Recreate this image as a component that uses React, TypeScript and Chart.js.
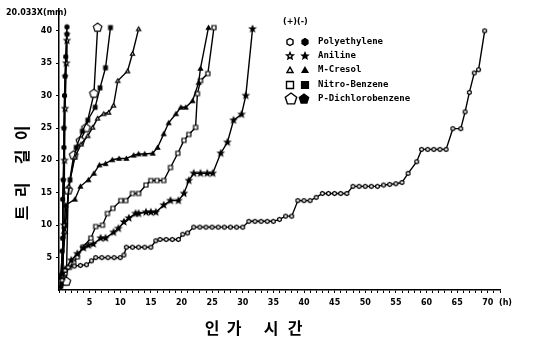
import React, { useEffect, useRef } from 'react';
import { Chart, registerables } from 'chart.js';

Chart.register(...registerables);

type Pt = [number, number];

// ---- tick labels / texts ----
const xTickLabels = [5, 10, 15, 20, 25, 30, 35, 40, 45, 50, 55, 60, 65, 70];
const yTickLabels = [5, 10, 15, 20, 25, 30, 35, 40];
const yUnitText = '20.033X(mm)';
const xUnitText = '(h)';
const xTitleChars = ['인', '가', '시', '간'];
const yTitleChars = ['트', '리', '길', '이'];
const legendHeader = '(+)(-)';
const substances = ['Polyethylene', 'Aniline', 'M-Cresol', 'Nitro-Benzene', 'P-Dichlorobenzene'];

// ---- series values: [hours, tree length] ----
const polyethylenePlus: Pt[] = [
  [0.5, 1.5], [1, 3], [1.5, 3.5], [2.5, 3.7], [3.5, 3.8], [4.5, 3.9], [5.3, 4.5],
  [6, 5], [7, 5], [8, 5], [9, 5], [10, 5], [10.6, 5.4],
  [11, 6.6], [12, 6.6], [13, 6.6], [14, 6.6], [15, 6.6],
  [15.8, 7.6], [16.5, 7.8], [17.5, 7.8], [18.5, 7.8], [19.5, 7.8],
  [20.2, 8.6], [21, 8.8],
  [22, 9.7], [23, 9.7], [24, 9.7], [25, 9.7], [26, 9.7], [27, 9.7], [28, 9.7], [29, 9.7], [30, 9.7],
  [31, 10.6], [32, 10.6], [33, 10.6], [34, 10.6], [35, 10.6],
  [36, 10.9], [37, 11.4], [38, 11.4],
  [39, 13.8], [40, 13.8], [41, 13.8], [42, 14.3],
  [43, 14.9], [44, 14.9], [45, 14.9], [46, 14.9], [47, 14.9],
  [48, 16.0], [49, 16.0], [50, 16.0], [51, 16.0], [52, 16.0],
  [53, 16.2], [54, 16.3], [55, 16.4], [56, 16.6],
  [57, 18], [58.4, 19.8],
  [59.2, 21.7], [60.2, 21.7], [61.2, 21.7], [62.2, 21.7], [63.2, 21.7],
  [64.3, 24.9], [65.6, 24.9],
  [66.3, 27.5], [67, 30.5], [67.8, 33.5], [68.5, 34], [69.5, 40],
];
const polyethyleneMinus: Pt[] = [
  [0.3, 0.5], [0.5, 6], [0.6, 14], [0.8, 22], [0.9, 30], [1.1, 36], [1.3, 40.6],
];
const anilinePlus: Pt[] = [
  [0.6, 2], [0.8, 10], [0.9, 20], [1.0, 28], [1.2, 35], [1.3, 38.5],
];
const anilineMinus: Pt[] = [
  [0.3, 2], [1, 3.2], [2, 4.6], [3, 5.6], [4, 6.5], [4.8, 6.9], [5.6, 7.1],
  [6.8, 8.0], [7.6, 8.0], [8.9, 8.9], [9.7, 9.5], [10.6, 10.5], [11.4, 11.1],
  [12.5, 11.8], [13, 11.8], [14.2, 12], [15, 12], [15.8, 12], [17.1, 13.1],
  [18.2, 13.8], [19.5, 13.8], [20.4, 14.9], [21.2, 16.9], [22, 18], [23.1, 18],
  [24.2, 18], [25.1, 18], [26.4, 21.1], [27.5, 22.8], [28.5, 26.2], [29.8, 27.1],
  [30.5, 30], [31.6, 40.3],
];
const mCresolPlus: Pt[] = [
  [0.4, 2], [1, 9], [1.6, 16], [2.6, 20.5], [3.6, 22.5], [4.7, 23.8], [5.5, 25.1],
  [6.3, 26.5], [7.3, 27.2], [8.1, 27.4], [8.9, 28.5], [9.6, 32.3], [11.2, 33.8],
  [12, 36.5], [13, 40.3],
];
const mCresolMinus: Pt[] = [
  [0.3, 2.5], [0.8, 9], [1.1, 13.1], [2.6, 14], [3.5, 16], [4.8, 17], [5.7, 18],
  [6.6, 19.3], [7.6, 19.5], [8.7, 20.1], [9.8, 20.3], [11, 20.3], [12.2, 20.8],
  [13, 21], [14, 21], [15.3, 21.1], [16.1, 22], [17.1, 24.1], [17.9, 25.8],
  [19.1, 27.2], [19.9, 28.2], [20.7, 28.2], [21.8, 29.2], [22.8, 32], [23.1, 34.2],
  [24.4, 40.5],
];
const nitroBenzenePlus: Pt[] = [
  [0.3, 1.5], [1, 2.6], [1.7, 3.5], [2.4, 4.2], [3, 5.1], [3.9, 6.6], [5.2, 8],
  [6, 9.8], [7.1, 10], [7.9, 11.8], [8.8, 12.6], [10.1, 13.8], [10.9, 13.8],
  [12, 14.9], [13, 14.9], [14.2, 16.2], [15, 16.9], [16, 16.9], [17.1, 16.9],
  [18.2, 18.9], [19.4, 21.1], [20.4, 23.1], [21.2, 24], [22.3, 25.1], [22.6, 30.3],
  [23.1, 32.3], [24.3, 33.4], [25.3, 40.5],
];
const nitroBenzeneMinus: Pt[] = [
  [0.5, 2], [1, 10], [1.8, 17], [2.8, 22], [3.8, 24.5], [4.7, 26.2], [5.9, 28.2],
  [6.7, 31.2], [7.6, 34.3], [8.4, 40.5],
];
const dichlorobenzenePlus: Pt[] = [
  [1.2, 1.3], [1.5, 15.4], [2.4, 20.8], [3.5, 23], [4.4, 25], [5.7, 30.3], [6.3, 40.5],
];
const dichlorobenzeneMinus: Pt[] = [
  [0.5, 1], [0.6, 8], [0.7, 17], [0.8, 25], [1, 33], [1.3, 39.5],
];

// ---- marker drawing ----
type Shape = 'hexagon' | 'star' | 'triangle' | 'square' | 'pentagon';
const legendShapes: Shape[] = ['hexagon', 'star', 'triangle', 'square', 'pentagon'];

function shapePath(ctx: CanvasRenderingContext2D, shape: Shape, cx: number, cy: number, r: number) {
  ctx.beginPath();
  if (shape === 'square') {
    ctx.rect(cx - r, cy - r, 2 * r, 2 * r);
  } else if (shape === 'star') {
    for (let i = 0; i < 10; i++) {
      const rad = i % 2 ? r * 0.45 : r;
      const a = -Math.PI / 2 + (i * Math.PI) / 5;
      const px = cx + rad * Math.cos(a);
      const py = cy + rad * Math.sin(a);
      if (i === 0) ctx.moveTo(px, py); else ctx.lineTo(px, py);
    }
  } else {
    const sides = shape === 'triangle' ? 3 : shape === 'pentagon' ? 5 : 6;
    const off = shape === 'triangle' ? r * 0.2 : 0;
    for (let i = 0; i < sides; i++) {
      const a = -Math.PI / 2 + (i * 2 * Math.PI) / sides;
      const px = cx + r * Math.cos(a);
      const py = cy + off + r * Math.sin(a);
      if (i === 0) ctx.moveTo(px, py); else ctx.lineTo(px, py);
    }
  }
  ctx.closePath();
}

function drawMarker(ctx: CanvasRenderingContext2D, shape: Shape, filled: boolean, cx: number, cy: number, r: number, lw = 1.2) {
  shapePath(ctx, shape, cx, cy, r);
  ctx.fillStyle = filled ? '#000' : '#fff';
  ctx.fill();
  ctx.lineWidth = lw;
  ctx.strokeStyle = '#000';
  ctx.stroke();
}

function makeMarker(shape: Shape, filled: boolean, r: number) {
  const c = document.createElement('canvas');
  const s = Math.ceil(2 * r + 4);
  c.width = s;
  c.height = s;
  const ctx = c.getContext('2d')!;
  drawMarker(ctx, shape, filled, s / 2, s / 2, r);
  return c;
}

const overlayPlugin = {
  id: 'overlayTexts',
  afterDraw(chart: any) {
    const ctx: CanvasRenderingContext2D = chart.ctx;
    ctx.save();
    ctx.fillStyle = '#000';
    ctx.textBaseline = 'middle';
    ctx.textAlign = 'left';
    ctx.font = 'bold 8px "DejaVu Sans"';
    ctx.fillText(yUnitText, 6, 13);
    ctx.fillText(xUnitText, 499, 303);

    // x title
    ctx.font = 'bold 16px "Noto Sans CJK KR"';
    ctx.textAlign = 'center';
    const xPos = [212, 234, 271, 295];
    xTitleChars.forEach((ch, i) => ctx.fillText(ch, xPos[i], 328));

    // y title (rotated, read bottom to top)
    const yPos = [213, 190, 157, 133];
    yTitleChars.forEach((ch, i) => {
      ctx.save();
      ctx.translate(22, yPos[i]);
      ctx.rotate(-Math.PI / 2);
      ctx.fillText(ch, 0, 0);
      ctx.restore();
    });

    // legend
    ctx.textAlign = 'left';
    ctx.font = 'bold 8px "DejaVu Sans"';
    ctx.fillText(legendHeader, 283, 22);
    const rowsY = [42, 56, 70, 85, 99];
    ctx.font = 'bold 9px "DejaVu Sans Mono"';
    substances.forEach((name, i) => {
      const big = legendShapes[i] === 'pentagon';
      drawMarker(ctx, legendShapes[i], false, big ? 291 : 290, rowsY[i], big ? 6 : 3.5, 1.4);
      drawMarker(ctx, legendShapes[i], true, big ? 304 : 305, rowsY[i], big ? 5 : 3.5, 1.2);
      ctx.fillStyle = '#000';
      ctx.fillText(name, 318, rowsY[i]);
    });
    ctx.restore();
  },
};

export default function App() {
  const ref = useRef<HTMLCanvasElement>(null);

  useEffect(() => {
    if (!ref.current) return;
    const defs = [
      { data: polyethylenePlus, shape: 'hexagon' as Shape, filled: false, r: 2.1 },
      { data: polyethyleneMinus, shape: 'hexagon' as Shape, filled: true, r: 2.2 },
      { data: anilinePlus, shape: 'star' as Shape, filled: false, r: 3 },
      { data: anilineMinus, shape: 'star' as Shape, filled: true, r: 3 },
      { data: mCresolPlus, shape: 'triangle' as Shape, filled: false, r: 2.4 },
      { data: mCresolMinus, shape: 'triangle' as Shape, filled: true, r: 2.4 },
      { data: nitroBenzenePlus, shape: 'square' as Shape, filled: false, r: 2 },
      { data: nitroBenzeneMinus, shape: 'square' as Shape, filled: true, r: 1.8 },
      { data: dichlorobenzenePlus, shape: 'pentagon' as Shape, filled: false, r: 4.5 },
      { data: dichlorobenzeneMinus, shape: 'pentagon' as Shape, filled: true, r: 2.5 },
    ];
    const chart = new Chart(ref.current, {
      type: 'scatter',
      data: {
        datasets: defs.map((d) => ({
          data: d.data.map(([x, y]) => ({ x, y })),
          showLine: true,
          borderColor: '#000',
          borderWidth: 1.4,
          tension: 0,
          pointStyle: makeMarker(d.shape, d.filled, d.r) as any,
          pointRadius: d.r,
          pointBackgroundColor: d.filled ? '#000' : '#fff',
          pointBorderColor: '#000',
        })),
      },
      options: {
        responsive: false,
        animation: false,
        events: [],
        layout: { padding: { top: 8, right: 48, left: 0, bottom: 0 } },
        plugins: { legend: { display: false }, tooltip: { enabled: false }, title: { display: false } },
        scales: {
          x: {
            type: 'linear',
            min: 0,
            max: 72,
            afterFit: (s: any) => { s.height = 61; },
            border: { color: '#000', width: 1.5 },
            grid: { drawOnChartArea: false, drawTicks: true, tickLength: 3, color: '#000', tickColor: '#000' },
            ticks: {
              stepSize: 1,
              autoSkip: false,
              maxRotation: 0,
              padding: 5,
              color: '#000',
              font: { family: 'DejaVu Sans', weight: 'bold', size: 8 },
              callback: (v: any) => (xTickLabels.includes(Number(v)) ? String(v) : ''),
            },
          },
          y: {
            type: 'linear',
            min: 0,
            max: 43.4,
            afterFit: (s: any) => { s.width = 59; },
            border: { color: '#000', width: 1.5 },
            grid: {
              drawOnChartArea: false,
              drawTicks: true,
              tickLength: 3,
              color: '#000',
              tickColor: (c: any) => (c.tick && yTickLabels.includes(c.tick.value) ? '#000' : 'rgba(0,0,0,0)'),
            },
            ticks: {
              stepSize: 5,
              padding: 4,
              color: '#000',
              font: { family: 'DejaVu Sans', weight: 'bold', size: 8 },
              callback: (v: any) => (yTickLabels.includes(Number(v)) ? String(v) : ''),
            },
          },
        },
      } as any,
      plugins: [overlayPlugin],
    });
    return () => chart.destroy();
  }, []);

  return (
    <div style={{ position: 'fixed', left: 0, top: 0, width: 548, height: 351, background: '#fff' }}>
      <canvas ref={ref} width={548} height={351} style={{ width: 548, height: 351 }} />
    </div>
  );
}
